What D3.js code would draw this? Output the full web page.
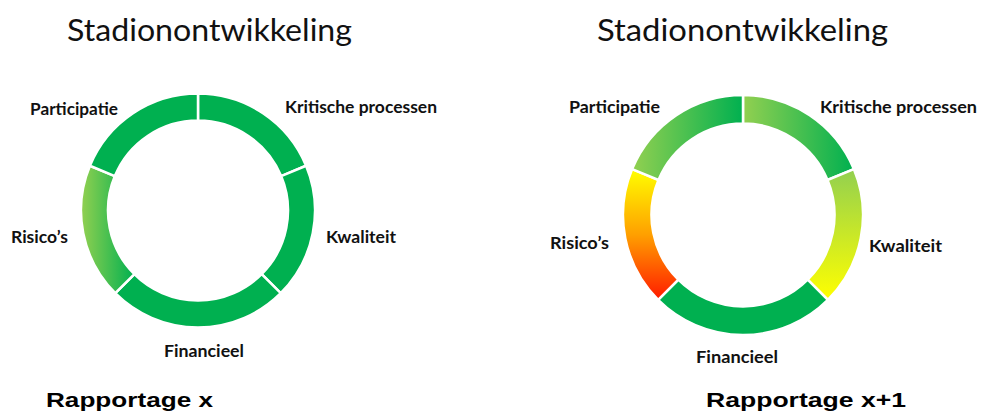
<!DOCTYPE html>
<html><head><meta charset="utf-8">
<script src="https://cdn.jsdelivr.net/npm/d3@7"></script>
<style>html,body{margin:0;padding:0;background:#fff;}svg{display:block;}</style>
</head><body>
<svg id="chart" width="981" height="414"></svg>
<script>
// ---- data ----
const categories = ["Kritische processen", "Kwaliteit", "Financieel", "Risico’s", "Participatie"];
const weights = [75, 75, 100, 75, 75];
const chartTitles = ["Stadionontwikkeling", "Stadionontwikkeling"];
const reportLabels = ["Rapportage x", "Rapportage x+1"];
const statusX  = ["groen", "groen", "groen", "lichtgroen-h", "groen"];
const statusX1 = ["lichtgroen-h", "lichtgroen-geel", "groen", "geel-rood", "lichtgroen-h"];

// ---- styles ----
const fills = {
  "groen":           {dir: "h", stops: ["#00B050", "#00B050"]},
  "lichtgroen-h":    {dir: "h", stops: ["#92D050", "#00B050"]},
  "lichtgroen-geel": {dir: "v", stops: ["#92D050", "#FFFF00"]},
  "geel-rood":       {dir: "v", stops: ["#FFFF00", "#FFA000", "#FF1A00"]}
};

// ---- layout ----
const panels = [
  {cx: 198, cy: 210.5, rO: 117, rI: 90, titleX: 67, titleW: 285, repX: 46, repW: 167,
   labels: [[285,113,152],[326,243,70],[164,357,80],[11,243,57],[30,115,88]]},
  {cx: 743, cy: 215, rO: 120, rI: 91.5, titleX: 597, titleW: 291, repX: 706, repW: 200,
   labels: [[820,113,157],[869,252,73],[696,363,82],[550,249,59],[569,113,91]]}
];
const statuses = [statusX, statusX1];

const svg = d3.select("#chart");
const defs = svg.append("defs");

const pie = d3.pie().value(d => d).sort(null);
const arcsData = pie(weights);

panels.forEach((p, pi) => {
  const g = svg.append("g").attr("transform", `translate(${p.cx},${p.cy})`);
  const arc = d3.arc().innerRadius(p.rI).outerRadius(p.rO);
  arcsData.forEach((a, i) => {
    const f = fills[statuses[pi][i]];
    const id = `grad-${pi}-${i}`;
    const lg = defs.append("linearGradient").attr("id", id)
      .attr("x1", 0).attr("y1", 0)
      .attr("x2", f.dir === "h" ? 1 : 0).attr("y2", f.dir === "v" ? 1 : 0);
    f.stops.forEach((c, k) => lg.append("stop")
      .attr("offset", k / (f.stops.length - 1)).attr("stop-color", c));
    g.append("path").attr("d", arc(a)).attr("fill", `url(#${id})`)
      .attr("stroke", "#fff").attr("stroke-width", 2.5);
  });

  categories.forEach((c, i) => {
    svg.append("text").attr("x", p.labels[i][0]).attr("y", p.labels[i][1])
      .attr("font-family", "Lato, 'Open Sans', sans-serif").attr("font-weight", "bold")
      .attr("font-size", 17).attr("fill", "#111")
      .attr("textLength", p.labels[i][2]).attr("lengthAdjust", "spacingAndGlyphs").text(c);
  });

  svg.append("text").attr("x", p.titleX).attr("y", 41)
    .attr("font-family", "Lato, 'Open Sans', sans-serif").attr("font-size", 30)
    .attr("fill", "#111").attr("textLength", p.titleW).attr("lengthAdjust", "spacingAndGlyphs")
    .text(chartTitles[pi]);

  svg.append("text").attr("x", p.repX).attr("y", 407)
    .attr("font-family", "'Liberation Sans', Arial, sans-serif").attr("font-weight", "bold")
    .attr("font-size", 21).attr("fill", "#000").attr("textLength", p.repW)
    .attr("lengthAdjust", "spacingAndGlyphs").text(reportLabels[pi]);
});
</script>
</body></html>
